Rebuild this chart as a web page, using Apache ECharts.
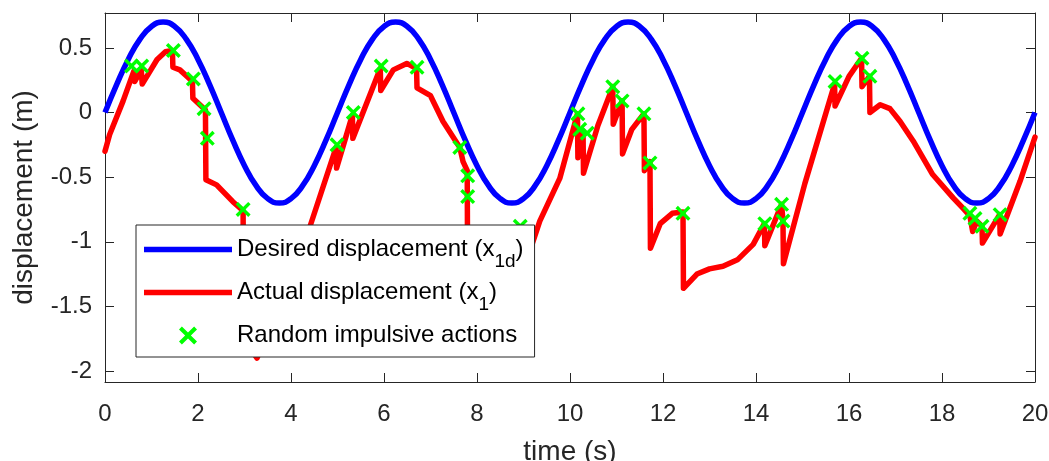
<!DOCTYPE html>
<html>
<head>
<meta charset="utf-8">
<script src="https://cdn.jsdelivr.net/npm/echarts@6/dist/echarts.min.js"></script>
<style>
  html, body { margin: 0; padding: 0; background: #fff; }
  #chart { width: 1049px; height: 461px; }
</style>
</head>
<body>
<div id="chart"></div>
<script>
// desired displacement, sampled every 0.25 s
const desiredT = [
  0, 0.25, 0.5, 0.75, 1, 1.25, 1.5, 1.75, 2, 2.25, 2.5, 2.75, 3, 3.25, 3.5, 3.75, 4, 4.25, 4.5, 4.75,
  5, 5.25, 5.5, 5.75, 6, 6.25, 6.5, 6.75, 7, 7.25, 7.5, 7.75, 8, 8.25, 8.5, 8.75, 9, 9.25, 9.5, 9.75,
  10, 10.25, 10.5, 10.75, 11, 11.25, 11.5, 11.75, 12, 12.25, 12.5, 12.75, 13, 13.25, 13.5, 13.75, 14, 14.25, 14.5, 14.75,
  15, 15.25, 15.5, 15.75, 16, 16.25, 16.5, 16.75, 17, 17.25, 17.5, 17.75, 18, 18.25, 18.5, 18.75, 19, 19.25, 19.5, 19.75,
  20
]
const desiredY = [
  0, 0.216, 0.411, 0.566, 0.666, 0.7, 0.666, 0.566, 0.411, 0.216, 0, -0.216, -0.411, -0.566, -0.666, -0.7, -0.666, -0.566, -0.411, -0.216,
  0, 0.216, 0.411, 0.566, 0.666, 0.7, 0.666, 0.566, 0.411, 0.216, 0, -0.216, -0.411, -0.566, -0.666, -0.7, -0.666, -0.566, -0.411, -0.216,
  0, 0.216, 0.411, 0.566, 0.666, 0.7, 0.666, 0.566, 0.411, 0.216, 0, -0.216, -0.411, -0.566, -0.666, -0.7, -0.666, -0.566, -0.411, -0.216,
  0, 0.216, 0.411, 0.566, 0.666, 0.7, 0.666, 0.566, 0.411, 0.216, 0, -0.216, -0.411, -0.566, -0.666, -0.7, -0.666, -0.566, -0.411, -0.216,
  0
]

// actual displacement (jumps at the impulses)
const actualT = [
  0, 0.1, 0.39, 0.62, 0.64, 0.78, 0.8, 1.12, 1.3, 1.45, 1.46, 1.61, 1.76, 1.88, 1.89, 2.04, 2.16, 2.17,
  2.4, 2.75, 2.97, 2.98, 3.27, 4.41, 4.97, 4.98, 5.32, 5.33, 5.92, 5.93, 6.2, 6.49, 6.7, 6.71,
  7.0, 7.27, 7.63, 7.7, 7.79, 7.8, 8.6, 9.35, 9.78, 10.16, 10.17, 10.28, 10.29, 10.6, 10.92, 10.93,
  11.12, 11.13, 11.33, 11.59, 11.6, 11.72, 11.73, 11.94, 12.2, 12.43, 12.44, 12.73, 13.0, 13.29, 13.6, 13.94,
  14.18, 14.19, 14.55, 14.58, 14.59, 15.05, 15.69, 15.7, 16.0, 16.27, 16.28, 16.44, 16.45, 16.67, 16.88,
  17.1, 17.38, 17.8, 18.24, 18.45, 18.6, 18.66, 18.75, 18.86, 18.87, 19.24, 19.25, 19.68, 20
]
const actualY = [
  -0.3, -0.17, 0.09, 0.32, 0.24, 0.33, 0.22, 0.41, 0.47, 0.48, 0.35, 0.33, 0.28, 0.24, 0.11, 0.06, 0.02, -0.52,
  -0.56, -0.69, -0.76, -1.75, -1.9, -0.88, -0.27, -0.43, -0.02, -0.2, 0.34, 0.17, 0.33, 0.38, 0.34, 0.19,
  0.13, -0.07, -0.27, -0.38, -0.45, -1.45, -1.65, -0.84, -0.51, -0.01, -0.35, -0.14, -0.47, -0.1, 0.2, -0.09,
  0.09, -0.32, -0.13, -0.01, -0.45, -0.38, -1.05, -0.86, -0.78, -0.77, -1.36, -1.25, -1.21, -1.19, -1.14, -1.02,
  -0.86, -1.03, -0.71, -0.84, -1.17, -0.55, 0.22, 0.05, 0.28, 0.42, 0.2, 0.28, 0.0, 0.06, 0.03,
  -0.07, -0.22, -0.48, -0.66, -0.74, -0.8, -0.92, -0.84, -0.88, -1.01, -0.79, -0.94, -0.53, -0.19
]

// random impulsive actions
const impulseT = [
  0.57, 0.79, 1.47, 1.9, 2.13, 2.2, 2.97, 4.99, 5.34, 5.94, 6.71, 7.63, 7.8, 7.8, 8.93,
  10.17, 10.21, 10.37, 10.92, 11.12, 11.59, 11.72, 12.43, 14.19, 14.55, 14.58,
  15.7, 16.28, 16.45, 18.6, 18.71, 18.86, 19.25
]
const impulseY = [
  0.36, 0.36, 0.48, 0.26, 0.03, -0.2, -0.75, -0.25, 0.0, 0.36, 0.35, -0.27, -0.49, -0.65, -0.88,
  -0.01, -0.13, -0.16, 0.2, 0.09, -0.01, -0.39, -0.78, -0.86, -0.71, -0.84,
  0.24, 0.42, 0.28, -0.78, -0.82, -0.88, -0.79
]

const yTicks = [-2, -1.5, -1, -0.5, 0, 0.5]
const yTickLabels = ['-2', '-1.5', '-1', '-0.5', '0', '0.5']

const zip = (a, b) => a.map((v, i) => [v, b[i]])

const FONT = 'Liberation Sans'
const AXIS = '#262626'
const crossPath = 'path://M1.6,0L5,3.4L8.4,0L10,1.6L6.6,5L10,8.4L8.4,10L5,6.6L1.6,10L0,8.4L3.4,5L0,1.6Z'
const barIcon = 'path://M0,0L88,0L88,5.5L0,5.5Z'

const chart = echarts.init(document.getElementById('chart'))

const xBase = {
  type: 'value', min: 0, max: 20, interval: 2,
  axisLine: { show: true, onZero: false, lineStyle: { color: AXIS, width: 1 } },
  axisTick: { show: true, inside: true, length: 9, lineStyle: { color: AXIS } },
  splitLine: { show: false }
}
const yBase = {
  type: 'value', min: -2.085, max: 0.77,
  axisLine: { show: true, onZero: false, lineStyle: { color: AXIS, width: 1 } },
  axisTick: { show: true, inside: true, length: 9, customValues: yTicks, lineStyle: { color: AXIS } },
  splitLine: { show: false }
}

const option = {
  animation: false,
  backgroundColor: '#fff',
  textStyle: { fontFamily: FONT },
  grid: { left: 105, right: 14, top: 13, bottom: 79, containLabel: false, outerBoundsMode: 'none' },
  xAxis: [
    Object.assign({}, xBase, {
      position: 'bottom',
      name: 'time (s)', nameLocation: 'middle', nameGap: 56, nameMoveOverlap: false,
      nameTextStyle: { fontSize: 28, color: AXIS, fontFamily: FONT },
      axisLabel: { fontSize: 24, color: AXIS, margin: 20, fontFamily: FONT }
    }),
    Object.assign({}, xBase, { position: 'top', axisLabel: { show: false } })
  ],
  yAxis: [
    Object.assign({}, yBase, {
      position: 'left',
      name: 'displacement (m)', nameLocation: 'middle', nameGap: 67, nameRotate: 90, nameMoveOverlap: false,
      nameTextStyle: { fontSize: 28, color: AXIS, fontFamily: FONT },
      axisLabel: {
        fontSize: 24, color: AXIS, margin: 13, fontFamily: FONT,
        customValues: yTicks,
        formatter: v => yTickLabels[yTicks.indexOf(Math.round(v * 10) / 10)] ?? String(v)
      }
    }),
    Object.assign({}, yBase, { position: 'right', axisLabel: { show: false } })
  ],
  legend: {
    left: 136, top: 225,
    orient: 'vertical',
    backgroundColor: '#fff',
    borderColor: AXIS, borderWidth: 1, borderRadius: 0,
    padding: [3, 11, 0, 8],
    itemWidth: 88, itemHeight: 18, itemGap: 0,
    z: 10,
    data: [
      { name: 'desired', icon: barIcon, itemStyle: { color: '#0000ff' } },
      { name: 'actual', icon: barIcon, itemStyle: { color: '#ff0000' } },
      { name: 'impulse', icon: crossPath, itemStyle: { color: '#00ff00' } }
    ],
    formatter: name => ({
      desired: '{a|Desired displacement (x}{s|1d}{a|)}',
      actual: '{a|Actual displacement (x}{s|1}{a|)}',
      impulse: '{a|Random impulsive actions}{s| }'
    })[name],
    textStyle: {
      color: '#000',
      rich: {
        a: { fontSize: 24, lineHeight: 40, fontFamily: FONT, color: '#000' },
        s: { fontSize: 19, lineHeight: 16, padding: [24, 0, 0, 0], fontFamily: FONT, color: '#000' }
      }
    }
  },
  series: [
    {
      name: 'desired', type: 'line', smooth: true, showSymbol: false, symbol: 'none',
      data: zip(desiredT, desiredY),
      lineStyle: { color: '#0000ff', width: 5.5 }, itemStyle: { color: '#0000ff' },
      z: 2
    },
    {
      name: 'actual', type: 'line', smooth: false, showSymbol: false, symbol: 'none',
      data: zip(actualT, actualY),
      lineStyle: { color: '#ff0000', width: 5.5, cap: 'round', join: 'round' }, itemStyle: { color: '#ff0000' },
      z: 3
    },
    {
      name: 'impulse', type: 'scatter', symbol: crossPath, symbolSize: 15,
      data: zip(impulseT, impulseY),
      itemStyle: { color: '#00ff00', opacity: 1 },
      z: 4
    }
  ]
}

chart.setOption(option)
</script>
</body>
</html>
